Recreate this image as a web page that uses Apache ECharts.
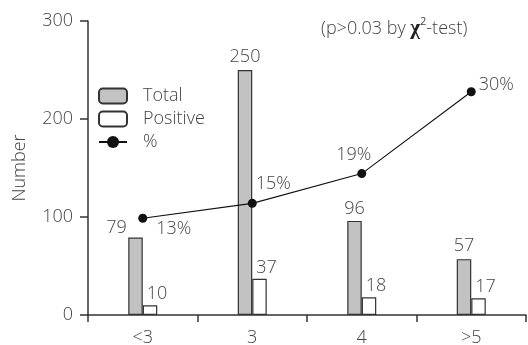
<!DOCTYPE html>
<html>
<head>
<meta charset="utf-8">
<script src="https://cdn.jsdelivr.net/npm/echarts@6/dist/echarts.min.js"></script>
<style>
  html, body { margin: 0; padding: 0; background: #fff; }
  #chart { width: 528px; height: 345px; }
</style>
</head>
<body>
<div id="chart"></div>
<script>
// Size groups and counts
const categories = ['<3', '3', '4', '>5'];
const totalCounts = [79, 250, 96, 57];
const positiveCounts = [10, 37, 18, 17];
const positiveRate = [13, 15, 19, 30];
const yTicks = [0, 100, 200, 300];

const FONT = '"Open Sans", "Liberation Sans", Arial, sans-serif';
const WEIGHT = 300;
const TEXT = '#444';
const AXIS = '#333';

// Per-point label nudges so the numbers stay clear of the line
const totalLabelOffsets = [[-19, 3], [0, 0], [0, 1], [0, 0]];
const rateLabelOffsets = [[31, 11], [21, -19], [-8, -19], [25, -7]];

const txt = (extra) => Object.assign({ fontSize: 18, color: TEXT, fontFamily: FONT, fontWeight: WEIGHT }, extra || {});

const chart = echarts.init(document.getElementById('chart'), null, { renderer: 'canvas' });

chart.setOption({
  animation: false,
  backgroundColor: '#fff',
  textStyle: { fontFamily: FONT },
  grid: { left: 88, right: 2, top: 21, bottom: 30, containLabel: false, outerBoundsMode: 'none' },
  legend: {
    orient: 'vertical',
    left: 98,
    top: 87,
    padding: 0,
    itemWidth: 28,
    itemHeight: 15,
    itemGap: 5,
    textStyle: txt({ padding: [0, 0, 0, 11] }),
    data: [
      { name: 'Total' },
      { name: 'Positive' },
      { name: '%' }
    ]
  },
  xAxis: {
    type: 'category',
    data: categories,
    boundaryGap: true,
    axisLine: { lineStyle: { color: AXIS, width: 1.5 } },
    axisTick: { show: true, alignWithLabel: false, length: 7, lineStyle: { color: AXIS, width: 1.5 } },
    axisLabel: txt({ margin: 14 })
  },
  yAxis: [
    {
      type: 'value',
      min: yTicks[0],
      max: yTicks[yTicks.length - 1],
      interval: 100,
      name: 'Number',
      nameLocation: 'middle',
      nameRotate: 90,
      nameGap: 59,
      nameTextStyle: txt(),
      splitLine: { show: false },
      axisLine: { show: true, lineStyle: { color: AXIS, width: 1.5 } },
      axisTick: { show: true, length: 8, lineStyle: { color: AXIS, width: 1.5 } },
      axisLabel: txt({ margin: 15 })
    },
    {
      type: 'value',
      min: 0,
      max: 39.5,
      show: false,
      splitLine: { show: false }
    }
  ],
  series: [
    {
      name: 'Total',
      type: 'bar',
      barWidth: 14.5,
      barGap: '0%',
      itemStyle: { color: '#c2c2c2', borderColor: AXIS, borderWidth: 1.2 },
      label: txt({ show: true, position: 'top', distance: 4 }),
      data: totalCounts.map((v, i) => ({ value: v, label: { offset: totalLabelOffsets[i] } }))
    },
    {
      name: 'Positive',
      type: 'bar',
      barWidth: 14.5,
      barGap: '0%',
      itemStyle: { color: '#fff', borderColor: AXIS, borderWidth: 1.2 },
      label: txt({ show: true, position: 'top', distance: 4, offset: [7, 2] }),
      data: positiveCounts
    },
    {
      name: '%',
      type: 'line',
      yAxisIndex: 1,
      symbol: 'circle',
      symbolSize: 9,
      lineStyle: { color: '#111', width: 1.1 },
      itemStyle: { color: '#111' },
      label: txt({
        show: true, position: 'inside', align: 'center', verticalAlign: 'middle',
        formatter: p => p.value + '%'
      }),
      data: positiveRate.map((v, i) => ({ value: v, label: { offset: rateLabelOffsets[i] } }))
    }
  ],
  graphic: [
    {
      type: 'text',
      left: 321,
      top: 16,
      style: {
        text: '{n|(p>0.03 by }{chi|χ}{sup|2}{n|-test)}',
        fill: TEXT,
        rich: {
          n: { fontSize: 18, fill: TEXT, fontFamily: FONT, fontWeight: WEIGHT },
          chi: { fontSize: 21, fontWeight: 'bold', fill: '#222', fontFamily: '"Liberation Serif", serif' },
          sup: { fontSize: 11, fill: TEXT, fontFamily: FONT, padding: [0, 0, 14, 0] }
        }
      }
    }
  ]
});
</script>
</body>
</html>
